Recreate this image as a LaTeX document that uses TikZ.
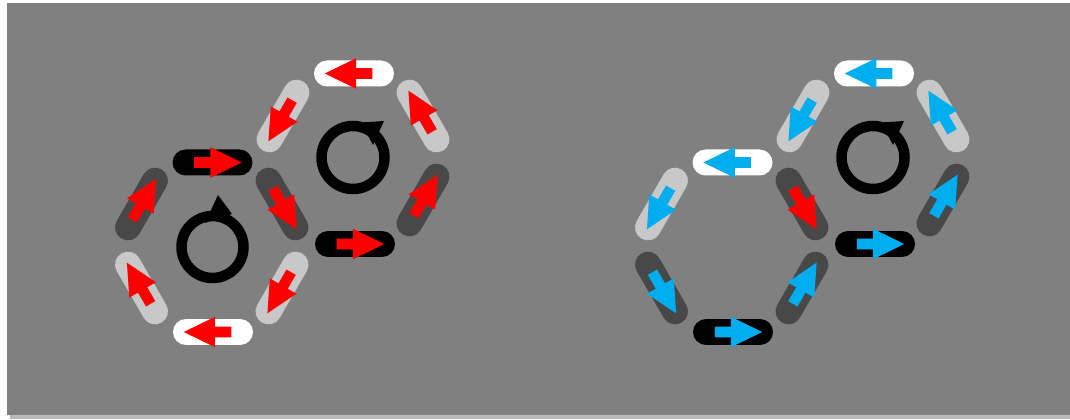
\documentclass[tikz,border=0pt]{standalone}
\usepackage{xcolor}
\usepackage{tikz}
\usetikzlibrary{shapes,arrows.meta}
\definecolor{bggray}{RGB}{128,128,128}
\definecolor{lightpill}{RGB}{200,200,200}
\definecolor{darkpill}{RGB}{72,72,72}
\definecolor{spinblue}{RGB}{0,174,239}
\tikzset{
pill/.style={rounded rectangle,minimum width=1.6cm,minimum height=0.52cm,inner sep=0pt},
wpill/.style={pill,fill=white},
lpill/.style={pill,fill=lightpill},
dpill/.style={pill,fill=darkpill},
kpill/.style={pill,fill=black},
spin/.style={single arrow,fill=#1,minimum height=0.95cm,inner sep=0.1cm,
  single arrow head extend=0.2cm,single arrow tip angle=52},
ring/.style={line width=0.21cm,black}
}
\begin{document}
\begin{tikzpicture}[x=0.02cm,y=0.02cm]
\useasboundingbox (0,0) rectangle (1070,419);
\fill[gray!55] (10,0) rectangle (1070,4);
\fill[bggray] (7,4) rectangle (1070,416);
\node[kpill] (Atop) at (212.5,256.5) {};
\node[spin=red] (sAtop) at (Atop) {};
\node[wpill] (Abot) at (213,87) {};
\node[spin=red,rotate=180] (sAbot) at (Abot) {};
\node[dpill,rotate=60] (Aul) at (141.5,215) {};
\node[spin=red,rotate=60] (sAul) at (Aul) {};
\node[lpill,rotate=-60] (All) at (141.5,131) {};
\node[spin=red,rotate=120] (sAll) at (All) {};
\node[lpill,rotate=60] (Alr) at (282,131) {};
\node[spin=red,rotate=240] (sAlr) at (Alr) {};
\node[dpill,rotate=-60] (AB) at (282,215) {};
\node[spin=red,rotate=-60] (sAB) at (AB) {};
\node[wpill] (Btop) at (354,345.5) {};
\node[spin=red,rotate=180] (sBtop) at (Btop) {};
\node[kpill] (Bbot) at (355,175) {};
\node[spin=red] (sBbot) at (Bbot) {};
\node[lpill,rotate=60] (Bul) at (283,303) {};
\node[spin=red,rotate=240] (sBul) at (Bul) {};
\node[lpill,rotate=-60] (Bur) at (423,303) {};
\node[spin=red,rotate=120] (sBur) at (Bur) {};
\node[dpill,rotate=60] (Blr) at (423,219) {};
\node[spin=red,rotate=60] (sBlr) at (Blr) {};
\draw[ring] (212.5,172) circle[radius=0.62cm];
\fill (218,224)--(205,196)--(232,205)--cycle;
\draw[ring] (353,261.5) circle[radius=0.63cm];
\fill (384,298)--(361,296.5)--(373,274)--cycle;
\node[wpill] (Ctop) at (732.5,256.5) {};
\node[spin=spinblue,rotate=180] (sCtop) at (Ctop) {};
\node[kpill] (Cbot) at (733,87) {};
\node[spin=spinblue] (sCbot) at (Cbot) {};
\node[lpill,rotate=60] (Cul) at (661.5,215) {};
\node[spin=spinblue,rotate=240] (sCul) at (Cul) {};
\node[dpill,rotate=-60] (Cll) at (661.5,131) {};
\node[spin=spinblue,rotate=-60] (sCll) at (Cll) {};
\node[dpill,rotate=60] (Clr) at (802,131) {};
\node[spin=spinblue,rotate=60] (sClr) at (Clr) {};
\node[dpill,rotate=-60] (CD) at (802,215) {};
\node[spin=red,rotate=-60] (sCD) at (CD) {};
\node[wpill] (Dtop) at (874,345.5) {};
\node[spin=spinblue,rotate=180] (sDtop) at (Dtop) {};
\node[kpill] (Dbot) at (875,175) {};
\node[spin=spinblue] (sDbot) at (Dbot) {};
\node[lpill,rotate=60] (Dul) at (803,303) {};
\node[spin=spinblue,rotate=240] (sDul) at (Dul) {};
\node[lpill,rotate=-60] (Dur) at (943,303) {};
\node[spin=spinblue,rotate=120] (sDur) at (Dur) {};
\node[dpill,rotate=60] (Dlr) at (943,219) {};
\node[spin=spinblue,rotate=60] (sDlr) at (Dlr) {};
\draw[ring] (873,261.5) circle[radius=0.63cm];
\fill (904,298)--(881,296.5)--(893,274)--cycle;
\end{tikzpicture}
\end{document}
